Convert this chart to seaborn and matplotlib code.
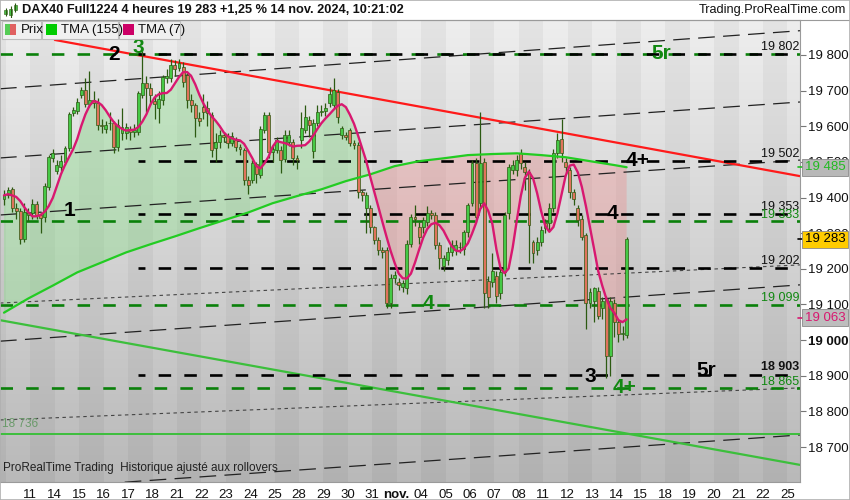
import numpy as np
import pandas as pd
import matplotlib.pyplot as plt
import matplotlib.transforms as mtransforms
from matplotlib.colors import LinearSegmentedColormap
from matplotlib.patches import Rectangle
from matplotlib.lines import Line2D
import seaborn as sns

# DAX40 Full1224, bougies 4 heures : derniere bougie du 9 oct. puis 6 bougies par jour
# jusqu'au 14 nov. 2024 10h
opens = [19395, 19406, 19423, 19370, 19361, 19285, 19350,
         19356, 19381, 19350, 19345, 19430, 19511,
         19475, 19485, 19500, 19538, 19637, 19642,
         19688, 19702, 19662, 19673, 19665, 19603,
         19592, 19608, 19608, 19541, 19581, 19580,
         19590, 19585, 19584, 19688, 19721, 19707,
         19671, 19651, 19673, 19735, 19735, 19772,
         19763, 19766, 19744, 19673, 19659, 19622,
         19654, 19652, 19631, 19538, 19555, 19575,
         19573, 19553, 19561, 19541, 19533, 19448,
         19448, 19494, 19463, 19589, 19631, 19527,
         19533, 19533, 19508, 19555, 19555, 19510,
         19560, 19589, 19617, 19530, 19608, 19640,
         19642, 19665, 19660, 19696, 19575, 19575,
         19589, 19552, 19547, 19415, 19370, 19370,
         19316, 19280, 19252, 19252, 19103, 19173,
         19162, 19148, 19145, 19271, 19344, 19316,
         19316, 19330, 19356, 19350, 19266, 19207,
         19224, 19246, 19252, 19262, 19255, 19302,
         19385, 19496, 19384, 19499, 19167, 19162,
         19181, 19131, 19190, 19356, 19477, 19477,
         19524, 19485, 19471, 19274, 19252, 19274,
         19328, 19328, 19372, 19524, 19564, 19499,
         19477, 19415, 19372, 19341, 19294, 19105,
         19111, 19139, 19090, 19116, 18956, 19105,
         19050, 19018, 19013]
highs = [19420, 19430, 19430, 19385, 19370, 19385, 19370,
         19395, 19390, 19360, 19440, 19520, 19535,
         19505, 19520, 19545, 19640, 19655, 19680,
         19710, 19735, 19755, 19700, 19680, 19620,
         19615, 19640, 19615, 19620, 19650, 19610,
         19600, 19605, 19700, 19810, 19740, 19720,
         19690, 19700, 19745, 19760, 19790, 19785,
         19790, 19780, 19750, 19690, 19665, 19640,
         19690, 19670, 19640, 19580, 19590, 19585,
         19580, 19585, 19570, 19550, 19540, 19460,
         19505, 19500, 19600, 19640, 19640, 19550,
         19570, 19545, 19590, 19590, 19565, 19520,
         19640, 19660, 19630, 19620, 19660, 19660,
         19665, 19710, 19735, 19705, 19600, 19585,
         19595, 19560, 19555, 19420, 19415, 19380,
         19320, 19290, 19260, 19260, 19185, 19195,
         19175, 19170, 19280, 19355, 19380, 19330,
         19345, 19375, 19365, 19360, 19275, 19240,
         19260, 19280, 19280, 19275, 19310, 19385,
         19505, 19510, 19640, 19510, 19180, 19245,
         19195, 19200, 19360, 19495, 19505, 19520,
         19535, 19500, 19480, 19280, 19290, 19320,
         19340, 19385, 19535, 19580, 19620, 19510,
         19485, 19425, 19380, 19350, 19300, 19145,
         19150, 19150, 19120, 19125, 19120, 19115,
         19060, 19040, 19290]
lows = [19380, 19400, 19360, 19340, 19270, 19275, 19335,
        19340, 19340, 19300, 19330, 19420, 19500,
        19465, 19475, 19490, 19530, 19630, 19635,
        19680, 19655, 19655, 19650, 19590, 19580,
        19580, 19590, 19525, 19530, 19560, 19565,
        19560, 19570, 19575, 19680, 19640, 19660,
        19620, 19610, 19660, 19720, 19725, 19740,
        19755, 19710, 19650, 19640, 19570, 19600,
        19620, 19600, 19515, 19500, 19540, 19555,
        19540, 19545, 19530, 19520, 19436, 19410,
        19440, 19440, 19455, 19580, 19510, 19500,
        19525, 19470, 19500, 19545, 19490, 19480,
        19540, 19580, 19570, 19510, 19600, 19630,
        19630, 19655, 19650, 19610, 19565, 19560,
        19545, 19535, 19400, 19390, 19300, 19300,
        19270, 19240, 19230, 19090, 19090, 19160,
        19140, 19135, 19130, 19260, 19320, 19270,
        19300, 19320, 19340, 19255, 19200, 19195,
        19210, 19235, 19240, 19245, 19240, 19290,
        19375, 19330, 19370, 19090, 19090, 19150,
        19105, 19115, 19180, 19340, 19465, 19460,
        19480, 19420, 19215, 19215, 19240, 19265,
        19300, 19310, 19360, 19510, 19500, 19470,
        19400, 19380, 19320, 19280, 19030, 19090,
        19050, 19060, 19060, 18895, 18900, 19010,
        18995, 19000, 19005]
closes = [19406, 19420, 19370, 19362, 19285, 19358, 19356,
          19381, 19350, 19343, 19432, 19513, 19525,
          19492, 19502, 19538, 19634, 19645, 19668,
          19702, 19662, 19673, 19665, 19603, 19600,
          19603, 19610, 19541, 19603, 19598, 19597,
          19585, 19590, 19693, 19721, 19707, 19688,
          19662, 19676, 19738, 19741, 19772, 19761,
          19777, 19724, 19673, 19659, 19623, 19616,
          19640, 19637, 19533, 19555, 19575, 19570,
          19553, 19573, 19541, 19536, 19448, 19434,
          19496, 19466, 19592, 19631, 19527, 19535,
          19561, 19505, 19575, 19575, 19510, 19505,
          19595, 19626, 19603, 19610, 19640, 19642,
          19650, 19690, 19702, 19626, 19595, 19570,
          19553, 19547, 19415, 19406, 19406, 19316,
          19280, 19252, 19246, 19105, 19173, 19184,
          19155, 19159, 19271, 19344, 19340, 19288,
          19336, 19356, 19350, 19266, 19229, 19229,
          19246, 19266, 19266, 19260, 19302, 19378,
          19496, 19345, 19496, 19131, 19120, 19195,
          19125, 19190, 19350, 19485, 19491, 19505,
          19496, 19471, 19322, 19243, 19274, 19308,
          19314, 19372, 19524, 19561, 19524, 19485,
          19415, 19395, 19336, 19288, 19105, 19134,
          19145, 19069, 19111, 18956, 19111, 19050,
          19018, 19020, 19283]

# TMA (155) lue une fois par jour (indice de bougie)
tma155_idx = [0, 6, 12, 18, 24, 30, 36, 42, 48, 54, 60, 66, 72, 78, 84,
              90, 96, 102, 108, 114, 120, 126, 132, 138, 144, 150, 153]
tma155_val = [19077, 19117, 19153, 19190, 19218, 19246, 19269, 19291, 19314,
              19336, 19358, 19384, 19404, 19423, 19446, 19465, 19488, 19502,
              19510, 19519, 19522, 19524, 19519, 19513, 19502, 19491, 19485]

# axe des dates : debut de chaque journee
day_labels = ['11', '14', '15', '16', '17', '18', '21', '22', '23', '24', '25',
              '28', '29', '30', '31', 'nov.', '04', '05', '06', '07', '08',
              '11', '12', '13', '14', '15', '18', '19', '20', '21', '22', '25']

# niveaux horizontaux
black_levels = [19802, 19502, 19353, 19202, 18903]
black_labels = ['19 802', '19 502', '19 353', '19 202', '18 903']
green_levels = [19802, 19333, 19099, 18865]
green_labels = ['', '19 333', '19 099', '18 865']

# droites tracees (x en indice de bougie)
chan_y0 = [19705, 19511, 19351, 18997, 18577]
chan_y1 = [19868, 19668, 19505, 19155, 18734]
dot_y0 = [19104, 18776]
dot_y1 = [19211, 18866]
red_line = [12.5, 19842, 195.6, 19460]
green_line = [-1.0, 19056, 195.6, 18650]
support_level = 18736

# etiquettes de vagues : (indice, prix, texte, couleur)
waves = [(27, 19800, '2', 'black'), (33, 19820, '3', '#118811'),
         (161.4, 19803, '5r', '#118811'), (155.8, 19505, '4+', 'black'),
         (149.4, 19354, '4', 'black'), (16.2, 19365, '1', 'black'),
         (104.2, 19104, '4', '#118811'), (144, 18897, '3', 'black'),
         (172.5, 18916, '5r', 'black'), (152.6, 18868, '4+', '#118811')]

tag_values = [19485, 19283, 19063]

sns.set_style('white')
plt.rcParams['font.family'] = ['Liberation Sans', 'DejaVu Sans']
plt.rcParams['lines.scale_dashes'] = False

df = pd.DataFrame({'open': opens, 'high': highs, 'low': lows, 'close': closes})
df['idx'] = np.arange(len(df))
df['tma7'] = df['close'].rolling(4, min_periods=1).mean().rolling(4, min_periods=1).mean()

fig = plt.figure(figsize=(8.5, 5), dpi=100)
ax = fig.add_axes([0, 18 / 500, 800 / 850, 462 / 500])
xl = (-0.98, 195.6)
yl = (18602, 19898)

# fond degrade + bandes journalieres
cmap = LinearSegmentedColormap.from_list('bg', ['#b9b9b9', '#eeeeee'])
ax.imshow(np.linspace(0, 1, 256).reshape(-1, 1), cmap=cmap, origin='lower',
          extent=[xl[0], xl[1], yl[0], yl[1]], aspect='auto', zorder=0)
for d in range(-1, 33):
    if d % 2:
        ax.axvspan(0.5 + 6 * d, 6.5 + 6 * d, color='black', alpha=0.04, lw=0, zorder=0.5)

# zone entre TMA7 et TMA155
t155 = pd.Series(tma155_val, index=tma155_idx)
cross = next(i for i in tma155_idx if df['tma7'][i] < t155[i])
g = df[df['idx'] <= cross]
r = df[df['idx'] >= cross]
ax.fill(list(g['idx']) + [i for i in tma155_idx if i <= cross][::-1],
        list(g['tma7']) + list(t155[t155.index <= cross])[::-1],
        color='#7ee07e', alpha=0.35, lw=0, zorder=1)
ax.fill(list(r['idx']) + [i for i in tma155_idx if i >= cross][::-1],
        list(r['tma7']) + list(t155[t155.index >= cross])[::-1],
        color='#f08a8a', alpha=0.35, lw=0, zorder=1)

# droites de canal et pointillees
for y0, y1 in zip(chan_y0, chan_y1):
    ax.plot([xl[0], xl[1]], [y0, y1], color='#222222', lw=0.9, ls=(0, (12, 6)), zorder=2)
for y0, y1 in zip(dot_y0, dot_y1):
    ax.plot([xl[0], xl[1]], [y0, y1], color='#444444', lw=0.8, ls=(0, (2.5, 2.5)), zorder=2)
ax.plot([red_line[0], red_line[2]], [red_line[1], red_line[3]], color='#ff1a1a', lw=1.6, zorder=2)
ax.plot([green_line[0], green_line[2]], [green_line[1], green_line[3]], color='#3cbf3c', lw=1.6, zorder=2)
ax.axhline(support_level, color='#3cbf3c', lw=1.4, zorder=2)
ax.text(-0.4, support_level + 12, '18 736', color='#6a9a6a', fontsize=8.5, va='bottom', ha='left', zorder=3)

# niveaux
for lv in green_levels:
    ax.plot([xl[0], xl[1]], [lv, lv], color='#0a800a', lw=1.9, ls=(0, (9, 9.5)), zorder=2.2)
for lv in black_levels:
    ax.plot([33, xl[1]], [lv, lv], color='black', lw=1.9, ls=(4, (9, 9.5)), zorder=2.3)
for lv, lab in zip(black_levels, black_labels):
    ax.text(190.7, lv + 4, lab, ha='center', va='bottom', fontsize=9, color='#111111',
            weight='bold' if lab == '18 903' else 'normal', zorder=3)
for lv, lab in zip(green_levels, green_labels):
    ax.text(190.7, lv + 2, lab, ha='center', va='bottom', fontsize=9, color='#118811', zorder=3)

# bougies
up = df['close'] >= df['open']
ax.vlines(df['idx'], df['low'], df['high'], color='#2c5a12', lw=0.9, zorder=3)
ax.bar(df['idx'], (df['close'] - df['open']).abs().clip(lower=2), bottom=df[['open', 'close']].min(axis=1),
       width=0.72, color=np.where(up, '#46c946', '#e0735c'), edgecolor='#2c5a12', linewidth=0.5, zorder=3.5)

# moyennes mobiles
sns.lineplot(x=tma155_idx, y=tma155_val, ax=ax, color='#22cc22', linewidth=1.6, estimator=None, zorder=4)
sns.lineplot(data=df, x='idx', y='tma7', ax=ax, color='#d81870', linewidth=1.7, estimator=None, zorder=4.5)

for xw, yw, txt, col in waves:
    ax.text(xw, yw, txt, ha='center', va='center', fontsize=15, weight='bold', color=col, zorder=5)

ax.set_xlim(xl)
ax.set_ylim(yl)
ax.set_xlabel('')
ax.set_ylabel('')

# axe vertical a droite
yt = list(range(18700, 19801, 100))
ax.yaxis.tick_right()
ax.set_yticks(yt, [f'{v:,}'.replace(',', ' ') for v in yt])
for t in ax.get_yticklabels():
    if t.get_text() == '19 000':
        t.set_fontweight('bold')
ax.tick_params(axis='y', length=4, width=0.8, color='#777777', labelsize=9.5, pad=2, labelcolor='#111111')

ax.set_xticks([0.5 + 6 * d for d in range(1, 33)], day_labels)
for t in ax.get_xticklabels():
    if t.get_text() == 'nov.':
        t.set_fontweight('bold')
ax.tick_params(axis='x', length=3, width=0.8, color='#777777', labelsize=9.5, pad=2, labelcolor='#111111')

for s in ['left']:
    ax.spines[s].set_visible(False)
for s in ['top', 'right', 'bottom']:
    ax.spines[s].set_color('#9a9a9a')
    ax.spines[s].set_linewidth(0.8)

# etiquettes de prix a droite
tr = mtransforms.blended_transform_factory(ax.transAxes, ax.transData)
tag_style = [('#22bb22', '#b8b8b8'), ('black', '#ffcc00'), ('#d81870', '#bdbdbd')]
for v, (fgc, bgc) in zip(tag_values, tag_style):
    ax.plot([0.997, 1.004], [v, v], transform=tr, color=fgc, lw=1.2, clip_on=False, zorder=6)
    ax.text(1.006, v, f'{v:,}'.replace(',', ' '), transform=tr, ha='left', va='center', fontsize=9.5,
            color=fgc, clip_on=False, zorder=6,
            bbox=dict(boxstyle='square,pad=0.18', fc=bgc, ec='#8a8a8a', lw=0.6))

ax.text(3 / 800, 8 / 462, 'ProRealTime Trading  Historique ajusté aux rollovers', transform=ax.transAxes,
        fontsize=8.5, color='#222222', ha='left', va='bottom', zorder=6)

# barre de titre
fig.text(22 / 850, 1 - 10 / 500, 'DAX40 Full1224 4 heures 19 283 +1,25 % 14 nov. 2024, 10:21:02',
         fontsize=9.2, weight='bold', va='center', ha='left', color='#111111')
fig.text(846 / 850, 1 - 10 / 500, 'Trading.ProRealTime.com', fontsize=9.2, va='center', ha='right',
         color='#111111')
fig.add_artist(Line2D([0, 1], [1 - 20 / 500, 1 - 20 / 500], color='#9a9a9a', lw=0.8))
icon = fig.add_axes([3 / 850, 1 - 18 / 500, 15 / 850, 16 / 500])
icon.vlines([0, 1, 2], [0.5, 0.1, 1.2], [2.0, 2.4, 3.0], color='#2c5a12', lw=0.8)
icon.bar([0, 1, 2], [0.8, 1.2, 1.0], bottom=[0.8, 0.6, 1.6], width=0.6, color='#46c946',
         edgecolor='#2c5a12', lw=0.4)
icon.set_xlim(-0.6, 2.6)
icon.set_ylim(0, 3.2)
icon.axis('off')

# legende
cells = [(2, 41, 'Prix', None), (42, 118, 'TMA (155)', '#00cc00'), (119, 180, 'TMA (7)', '#cc0066')]
for x0, x1, lab, col in cells:
    fig.add_artist(Rectangle((x0 / 850, 1 - 39 / 500), (x1 - x0) / 850, 18 / 500,
                             transform=fig.transFigure, fc='#f0f0f0', ec='#bcbcbc', lw=0.8, zorder=7))
    if col is None:
        fig.add_artist(Rectangle(((x0 + 3) / 850, 1 - 35 / 500), 5 / 850, 11 / 500,
                                 transform=fig.transFigure, fc='#55cc55', lw=0, zorder=8))
        fig.add_artist(Rectangle(((x0 + 8) / 850, 1 - 35 / 500), 6 / 850, 11 / 500,
                                 transform=fig.transFigure, fc='#e06060', lw=0, zorder=8))
    else:
        fig.add_artist(Rectangle(((x0 + 4) / 850, 1 - 35 / 500), 11 / 850, 11 / 500,
                                 transform=fig.transFigure, fc=col, lw=0, zorder=8))
    fig.text((x0 + 19) / 850, 1 - 30 / 500, lab, fontsize=9.5, va='center', ha='left',
             color='#111111', zorder=9)

fig.add_artist(Rectangle((0, 0), 1, 1, transform=fig.transFigure, fc='none', ec='#b0b0b0', lw=1.2, zorder=10))

fig.savefig('out.png', dpi=100)
